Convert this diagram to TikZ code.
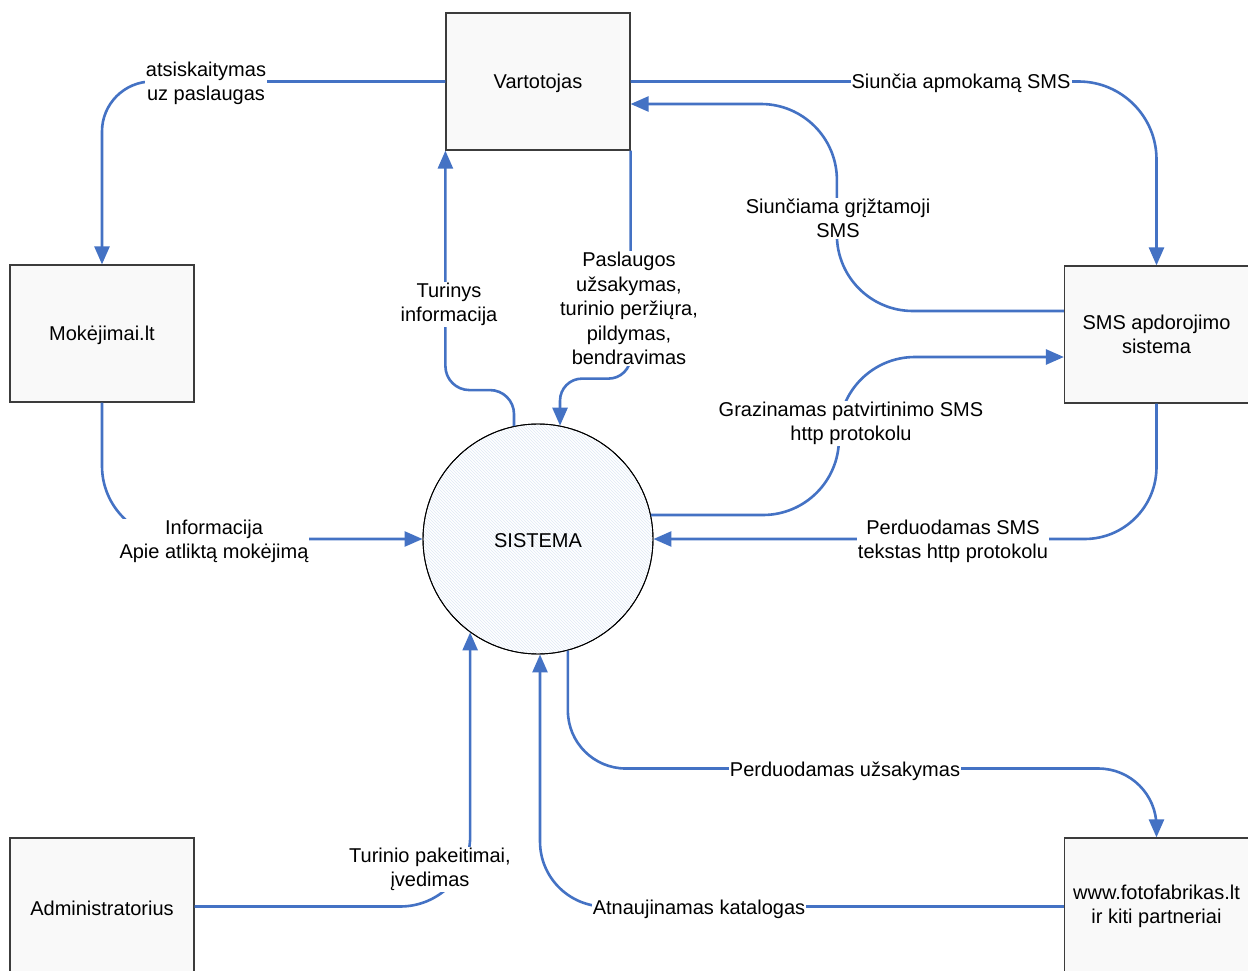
\documentclass[tikz,border=0pt]{standalone}
\usepackage{fontspec}
\setmainfont{Liberation Sans}
\usetikzlibrary{arrows.meta,patterns,calc}
\definecolor{flowblue}{RGB}{68,114,196}
\definecolor{boxfill}{RGB}{249,249,249}
\definecolor{boxline}{RGB}{60,60,60}
\definecolor{hatchblue}{RGB}{224,232,246}
\tikzset{
  every node/.style={font=\fontsize{20}{24.5}\selectfont},
  raised/.style={execute at begin node={\rule{0pt}{18pt}}},
  entity/.style={raised, draw=boxline, line width=1.2pt, fill=boxfill,
    minimum width=184pt, minimum height=137pt, align=center, inner sep=0pt},
  process/.style={circle, draw=black, line width=0.9pt, minimum size=230pt,
    inner sep=0pt, fill=white},
  flow/.style={draw=flowblue, line width=2.6pt,
    -{Triangle[length=18pt,width=15pt]}},
  lbl/.style={fill=white, align=center, inner sep=1pt, yshift=-2.5pt},
}
\begin{document}
\begin{tikzpicture}[x=1pt,y=-1pt]
\useasboundingbox (0,0) rectangle (1248,971);
\clip (0,0) rectangle (1248,971);
\fill[white] (0,0) rectangle (1248,971);

% external entities
\node[entity] (vart) at (538,81.5)   {Vartotojas};
\node[entity] (mok)  at (102,333.5)  {Mokėjimai.lt};
\node[entity] (sms)  at (1156.5,334.5) {SMS apdorojimo\\sistema};
\node[entity] (adm)  at (102,906.5)  {Administratorius};
\node[entity] (foto) at (1156.5,906.5) {www.fotofabrikas.lt\\ir kiti partneriai};

% central process
\node[process] (sys) at (538,539) {};
\fill[pattern=north west lines, pattern color=hatchblue] (sys.center) circle (114.5);
\draw[black, line width=0.9pt] (sys.center) circle (115);
\node[raised] (systxt) at (sys.center) {SISTEMA};

% data flows
\draw[flow, rounded corners=50pt] (vart.west) -| (mok.north);
\draw[flow, rounded corners=73pt] (mok.south) |- (sys.west);
\draw[flow, rounded corners=24pt] (sys.102) -- ++(0,-36) -| (vart.south west);
\draw[flow, rounded corners=22pt] (vart.south east) -- ++(0,228) -| (sys.79);
\draw[flow, rounded corners=78pt] (vart.east) -| (sms.north);
\draw[flow, rounded corners=76pt] ($(sms.west)+(0,-23.5)$) -- ++(-227,0)
  |- ($(vart.east)+(0,22.5)$);
\draw[flow, rounded corners=76pt] (sys.12) -- ++(188,0)
  |- ($(sms.west)+(0,22.5)$);
\draw[flow, rounded corners=72pt] (sms.south) |- (sys.east);
\draw[flow, rounded corners=58pt] (sys.-75) -- ++(0,118) -- ++(588.5,0)
  [rounded corners=30pt] -- (foto.north);
\draw[flow, rounded corners=65pt] (foto.west) -| (sys.-89);
\draw[flow, rounded corners=70pt] (adm.east) -| (sys.-126);

% flow labels
\node[lbl] (l1)  at (206,81)  {atsiskaitymas\\uz paslaugas};
\node[lbl] (l2)  at (214,539) {Informacija\\Apie atliktą mokėjimą};
\node[lbl] (l3)  at (449,302) {Turinys\\informacija};
\node[lbl] (l4)  at (629,306) {Paslaugos\\užsakymas,\\turinio peržiųra,\\pildymas,\\bendravimas};
\node[lbl] (l5)  at (961,81)  {Siunčia apmokamą SMS};
\node[lbl] (l6)  at (838,216) {Siunčiama grįžtamoji\\SMS};
\node[lbl] (l7)  at (851,421) {Grazinamas patvirtinimo SMS\\http protokolu};
\node[lbl] (l8)  at (953,539) {Perduodamas SMS\\tekstas http protokolu};
\node[lbl] (l9)  at (845,769) {Perduodamas užsakymas};
\node[lbl] (l10) at (699,907) {Atnaujinamas katalogas};
\node[lbl] (l11) at (430,867) {Turinio pakeitimai,\\įvedimas};
\end{tikzpicture}
\end{document}
